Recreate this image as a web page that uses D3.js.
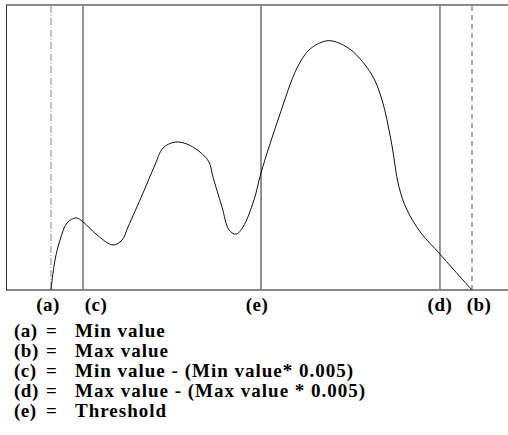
<!DOCTYPE html>
<html><head><meta charset="utf-8">
<script src="https://cdn.jsdelivr.net/npm/d3@7"></script>
<style>body{margin:0;background:#fff}</style>
</head><body>
<svg id="c" width="508" height="435"></svg>
<script>
// curve data (x in 0..100, y in 0..100)
const curveX = [8.96,9.76,10.76,12.15,13.94,15.34,18.13,21.31,23.11,24.30,27.29,29.68,31.27,33.67,36.06,38.65,40.44,41.24,43.03,44.42,45.82,47.21,49.40,50.80,54.38,57.97,60.36,62.95,64.94,68.73,72.91,74.90,76.69,78.29,79.88,82.67,86.25,89.24,92.83];
const curveY = [0,10.5,17.5,23.5,25.3,23.9,19.3,15.8,17.5,22.1,34.0,43.9,49.8,51.9,51.2,48.4,44.9,39.6,29.1,21.1,19.6,22.1,31.6,41.1,60.7,77.9,84.2,87.0,87.4,84.2,75.4,66.7,52.6,36.1,28.1,20.0,13.0,7.0,0];
const markerKeys = ["a","c","e","d","b"];
const markerX = [8.96,15.34,50.80,86.45,92.83];
const legendKeys = ["(a)","(b)","(c)","(d)","(e)"];
const legendText = ["Min value","Max value","Min value - (Min value* 0.005)","Max value - (Max value * 0.005)","Threshold"];

const svg = d3.select("#c");
const x = d3.scaleLinear().domain([0,100]).range([6,508]);
const y = d3.scaleLinear().domain([0,100]).range([290,5]);

// borders
svg.append("line").attr("x1",6).attr("x2",508).attr("y1",5).attr("y2",5).attr("stroke","#8a8a8a").attr("stroke-width",2);
svg.append("line").attr("x1",6).attr("x2",508).attr("y1",y(0)).attr("y2",y(0)).attr("stroke","#8a8a8a").attr("stroke-width",2);
svg.append("line").attr("x1",6.5).attr("x2",6.5).attr("y1",5).attr("y2",290).attr("stroke","#333").attr("stroke-width",1);

const styles = {
  a:{stroke:"#888",w:1,dash:"7,2,1,2"},
  c:{stroke:"#777",w:1.5,dash:null},
  e:{stroke:"#222",w:1,dash:null},
  d:{stroke:"#777",w:1.5,dash:null},
  b:{stroke:"#aaa",w:2,dash:"5,4"}
};
markerKeys.forEach((k,i)=>{
  const s = styles[k];
  const l = svg.append("line").attr("x1",x(markerX[i])).attr("x2",x(markerX[i]))
    .attr("y1",6).attr("y2",289).attr("stroke",s.stroke).attr("stroke-width",s.w);
  if (s.dash) l.attr("stroke-dasharray",s.dash);
});

const pts = curveX.map((v,i)=>[v,curveY[i]]);
svg.append("path").datum(pts)
  .attr("d", d3.line().x(d=>x(d[0])).y(d=>y(d[1])).curve(d3.curveCatmullRom))
  .attr("fill","none").attr("stroke","#111").attr("stroke-width",1);

const font = "'Liberation Serif','Times New Roman',serif";
const labelOffsets = {a:-3,c:13,e:-4,d:0,b:7};
markerKeys.forEach((k,i)=>{
  svg.append("text").attr("x",x(markerX[i])+labelOffsets[k]).attr("y",311)
    .attr("text-anchor","middle").attr("font-family",font).attr("font-weight","bold")
    .attr("font-size",19).attr("letter-spacing",0.5).attr("fill","#000").text("("+k+")");
});

legendKeys.forEach((k,i)=>{
  const yy = 337 + i*20;
  const g = svg.append("g").attr("font-family",font).attr("font-weight","bold").attr("font-size",19).attr("fill","#000");
  g.append("text").attr("x",14).attr("y",yy).attr("letter-spacing",0.5).text(k);
  g.append("text").attr("x",46).attr("y",yy).text("=");
  g.append("text").attr("x",75).attr("y",yy).attr("letter-spacing",1).text(legendText[i]);
});
</script>
</body></html>
